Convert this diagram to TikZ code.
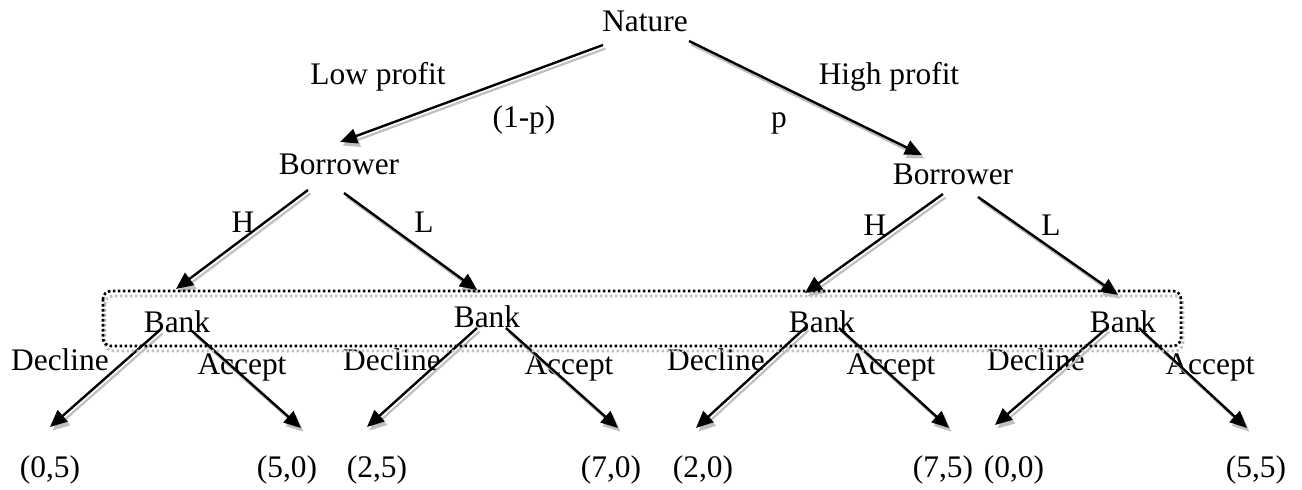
\documentclass[tikz,border=0pt]{standalone}
\usepackage{fontspec}
\setmainfont{Liberation Serif}
\usetikzlibrary{arrows.meta}
\begin{document}
\begin{tikzpicture}[%
    x=0.5pt, y=-0.5pt,
    every node/.style={inner sep=0pt, anchor=base, font=\fontsize{15.7}{18}\selectfont},
    move/.style={line width=1.2pt, -{Triangle[length=8.5pt,width=7.5pt]},
      preaction={draw=gray!50, line width=1.1pt, transform canvas={shift={(1.2pt,-1.8pt)}}}},
    infoset/.style={line width=1.3pt, dash pattern=on 1.3pt off 1.2pt, rounded corners=4pt}]
    \useasboundingbox (0,0) rectangle (1302,490);
    % players and moves
    \node (nature) at (645,32) {Nature};
    \node (lowp) at (378,85) {Low profit};
    \node (highp) at (889,85) {High profit};
    \node (probl) at (524,128) {(1-p)};
    \node (probh) at (779,128) {p};
    \node (borl) at (339,175) {Borrower};
    \node (borr) at (953,185) {Borrower};
    \node (hl) at (243,233) {H};
    \node (ll) at (424,233) {L};
    \node (hr) at (875,236) {H};
    \node (lr) at (1051,236) {L};
    \node (bank1) at (177,333) {Bank};
    \node (bank2) at (487,328) {Bank};
    \node (bank3) at (822,333) {Bank};
    \node (bank4) at (1123,333) {Bank};
    \node (dec1) at (60,371) {Decline};
    \node (acc1) at (242,375) {Accept};
    \node (dec2) at (392,371) {Decline};
    \node (acc2) at (569,375) {Accept};
    \node (dec3) at (716,371) {Decline};
    \node (acc3) at (891,375) {Accept};
    \node (dec4) at (1036,371) {Decline};
    \node (acc4) at (1210,375) {Accept};
    % payoffs
    \node (pay1) at (50,478) {(0,5)};
    \node (pay2) at (287,478) {(5,0)};
    \node (pay3) at (377,478) {(2,5)};
    \node (pay4) at (611,478) {(7,0)};
    \node (pay5) at (703,478) {(2,0)};
    \node (pay6) at (943,478) {(7,5)};
    \node (pay7) at (1014,478) {(0,0)};
    \node (pay8) at (1256,478) {(5,5)};
    % arrow ends
    \coordinate (nature-l) at (603,45);
    \coordinate (nature-r) at (689,41);
    \coordinate (borl-in) at (340,142);
    \coordinate (borr-in) at (922,155);
    \coordinate (borl-h) at (308,190);
    \coordinate (borl-l) at (344,193);
    \coordinate (borr-h) at (943,194);
    \coordinate (borr-l) at (978,197);
    \coordinate (bank1-in) at (176,289);
    \coordinate (bank2-in) at (477,290);
    \coordinate (bank3-in) at (805,293);
    \coordinate (bank4-in) at (1118,295);
    \coordinate (bank1-d) at (160,330);
    \coordinate (bank1-a) at (192,331);
    \coordinate (bank2-d) at (477,328);
    \coordinate (bank2-a) at (506,328);
    \coordinate (bank3-d) at (806,327);
    \coordinate (bank3-a) at (839,328);
    \coordinate (bank4-d) at (1107,328);
    \coordinate (bank4-a) at (1139,328);
    \coordinate (pay1-in) at (50,427);
    \coordinate (pay2-in) at (301,428);
    \coordinate (pay3-in) at (367,427);
    \coordinate (pay4-in) at (618,428);
    \coordinate (pay5-in) at (696,428);
    \coordinate (pay6-in) at (949,428);
    \coordinate (pay7-in) at (995,425);
    \coordinate (pay8-in) at (1247,428);
    \draw[move] (nature-l) -- (borl-in);
    \draw[move] (nature-r) -- (borr-in);
    \draw[move] (borl-h) -- (bank1-in);
    \draw[move] (borl-l) -- (bank2-in);
    \draw[move] (borr-h) -- (bank3-in);
    \draw[move] (borr-l) -- (bank4-in);
    \draw[move] (bank1-d) -- (pay1-in);
    \draw[move] (bank1-a) -- (pay2-in);
    \draw[move] (bank2-d) -- (pay3-in);
    \draw[move] (bank2-a) -- (pay4-in);
    \draw[move] (bank3-d) -- (pay5-in);
    \draw[move] (bank3-a) -- (pay6-in);
    \draw[move] (bank4-d) -- (pay7-in);
    \draw[move] (bank4-a) -- (pay8-in);
    % information set of the bank
    \draw[infoset, gray!50] (105,296) rectangle (1183,351);
    \draw[infoset] (103,291) rectangle (1181,346);
\end{tikzpicture}
\end{document}
